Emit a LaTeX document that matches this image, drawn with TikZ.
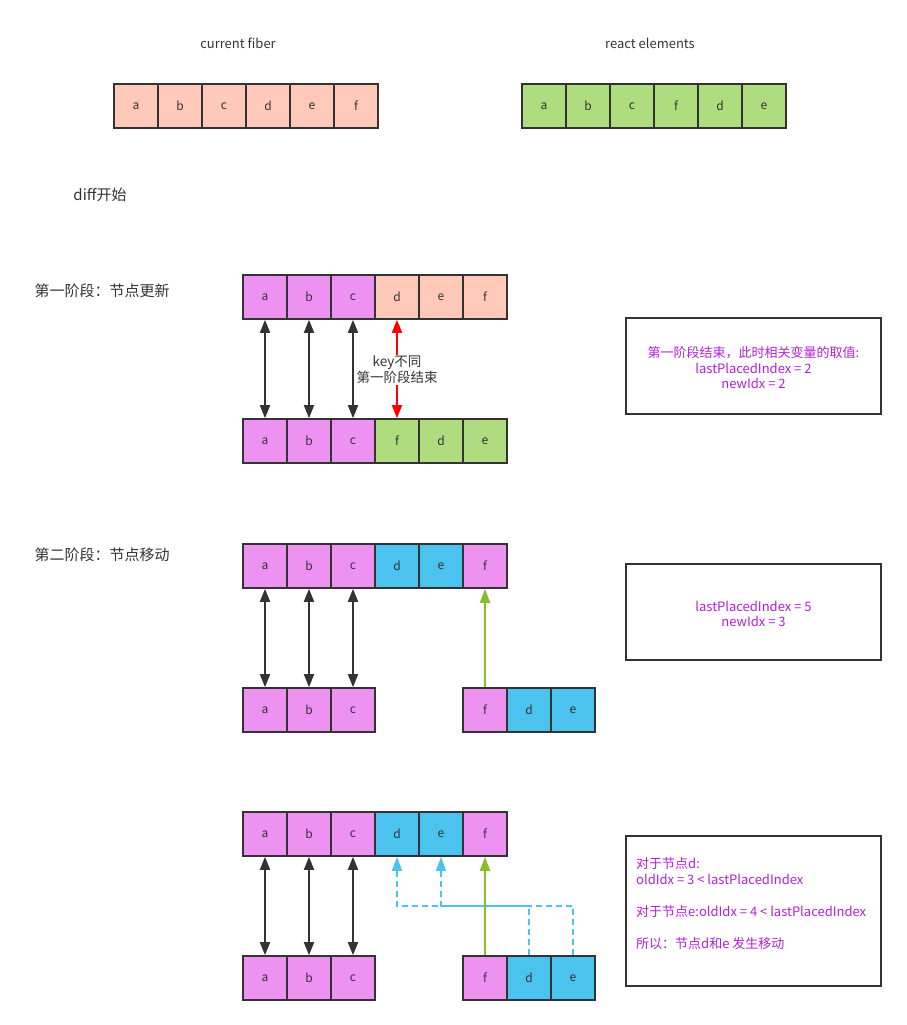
\documentclass[tikz,border=0pt]{standalone}
\usepackage{fontspec}
\setmainfont{Noto Sans CJK SC}
\usetikzlibrary{arrows.meta}

\definecolor{cellline}{HTML}{333333}
\definecolor{salmon}{HTML}{FFC9B9}
\definecolor{lgreen}{HTML}{AEDC7E}
\definecolor{violet}{HTML}{EE92F2}
\definecolor{sky}{HTML}{4CC3EE}
\definecolor{notetxt}{HTML}{B21FD9}
\definecolor{ngreen}{HTML}{86BE27}

\tikzset{
  cell/.style={draw=cellline, line width=1.6pt, minimum size=44pt, inner sep=0pt,
    text=cellline, font=\fontsize{12}{14}\selectfont},
  headtxt/.style={text=cellline, font=\fontsize{13}{15}\selectfont},
  stagetxt/.style={text=cellline, font=\fontsize{15}{17}\selectfont},
  notebox/.style={draw=cellline, line width=1.6pt, minimum width=255pt, inner sep=0pt},
  notetext/.style={text=notetxt, font=\fontsize{13}{15.5}\selectfont},
  link/.style={draw=cellline, line width=1.8pt,
    {Triangle[width=10pt,length=13pt]}-{Triangle[width=10pt,length=13pt]}},
  keylink/.style={draw=red, line width=1.8pt, -{Triangle[width=10pt,length=13pt]}},
  movelink/.style={draw=ngreen, line width=1.8pt, -{Triangle[width=10pt,length=14pt]}},
  dashlink/.style={draw=sky, line width=1.5pt, dash pattern=on 6pt off 4pt,
    -{Triangle[width=10pt,length=14pt]}},
}

\begin{document}
\begin{tikzpicture}[x=1pt,y=-1pt]
\useasboundingbox (0,0) rectangle (906,1025);

% titoli
\node[headtxt] (curtitle) at (238,43) {current fiber};
\node[headtxt] (reacttitle) at (650,43) {react elements};
\node[stagetxt] (difftitle) at (100,195) {diff开始};
\node[stagetxt] (stage1) at (102,291) {第一阶段：节点更新};
\node[stagetxt] (stage2) at (102,555) {第二阶段：节点移动};

% liste iniziali
\foreach \t [count=\i] in {a,b,c,d,e,f}
  \node[cell, fill=salmon] (cf\i) at (92+44*\i,106) {\t};
\foreach \t [count=\i] in {a,b,c,f,d,e}
  \node[cell, fill=lgreen] (re\i) at (500+44*\i,106) {\t};

% fase 1
\foreach \t/\c [count=\i] in {a/violet,b/violet,c/violet,d/salmon,e/salmon,f/salmon}
  \node[cell, fill=\c] (s1a\i) at (221+44*\i,297) {\t};
\foreach \t/\c [count=\i] in {a/violet,b/violet,c/violet,f/lgreen,d/lgreen,e/lgreen}
  \node[cell, fill=\c] (s1b\i) at (221+44*\i,441) {\t};
\foreach \i in {1,2,3}
  \draw[link] (s1a\i.south) -- (s1b\i.north);
\node[text=cellline, align=center, inner sep=1pt, font=\fontsize{13.5}{16}\selectfont]
  (keytxt) at (397,370) {key不同\\第一阶段结束};
\draw[keylink] (keytxt.north) -- (s1a4.south);
\draw[keylink] (keytxt.south) -- (s1b4.north);

\node[notebox, minimum height=96pt] (box1) at (753.5,366) {};
\node[notetext, align=center] (note1) at (753.5,368) {第一阶段结束，此时相关变量的取值:\\lastPlacedIndex = 2\\newIdx = 2};

% fase 2
\foreach \t/\c [count=\i] in {a/violet,b/violet,c/violet,d/sky,e/sky,f/violet}
  \node[cell, fill=\c] (s2a\i) at (221+44*\i,566) {\t};
\foreach \t [count=\i] in {a,b,c}
  \node[cell, fill=violet] (s2b\i) at (221+44*\i,710) {\t};
\foreach \t/\c [count=\i] in {f/violet,d/sky,e/sky}
  \node[cell, fill=\c] (s2c\i) at (441+44*\i,710) {\t};
\foreach \i in {1,2,3}
  \draw[link] (s2a\i.south) -- (s2b\i.north);
\draw[movelink] (s2c1.north) -- (s2a6.south);

\node[notebox, minimum height=96pt] (box2) at (753.5,612) {};
\node[notetext, align=center] (note2) at (753.5,614) {lastPlacedIndex = 5\\newIdx = 3};

% fase 3
\foreach \t/\c [count=\i] in {a/violet,b/violet,c/violet,d/sky,e/sky,f/violet}
  \node[cell, fill=\c] (s3a\i) at (221+44*\i,834) {\t};
\foreach \t [count=\i] in {a,b,c}
  \node[cell, fill=violet] (s3b\i) at (221+44*\i,978) {\t};
\foreach \t/\c [count=\i] in {f/violet,d/sky,e/sky}
  \node[cell, fill=\c] (s3c\i) at (441+44*\i,978) {\t};
\foreach \i in {1,2,3}
  \draw[link] (s3a\i.south) -- (s3b\i.north);
\coordinate (bend) at (0,906);
\draw[dashlink] (s3c2.north) -- (s3c2.north |- bend) -| (s3a4.south);
\draw[dashlink] (s3c3.north) -- (s3c3.north |- bend) -| (s3a5.south);
\draw[movelink] (s3c1.north) -- (s3a6.south);

\node[notebox, minimum height=150pt] (box3) at (753.5,911) {};
\node[notetext, align=left, anchor=west, inner sep=0pt, font=\fontsize{13}{16}\selectfont] (note3) at (636,904)
  {对于节点d:\\oldIdx = 3 < lastPlacedIndex\\[16pt]对于节点e:oldIdx = 4 < lastPlacedIndex\\[16pt]所以：节点d和e 发生移动};

\end{tikzpicture}
\end{document}
